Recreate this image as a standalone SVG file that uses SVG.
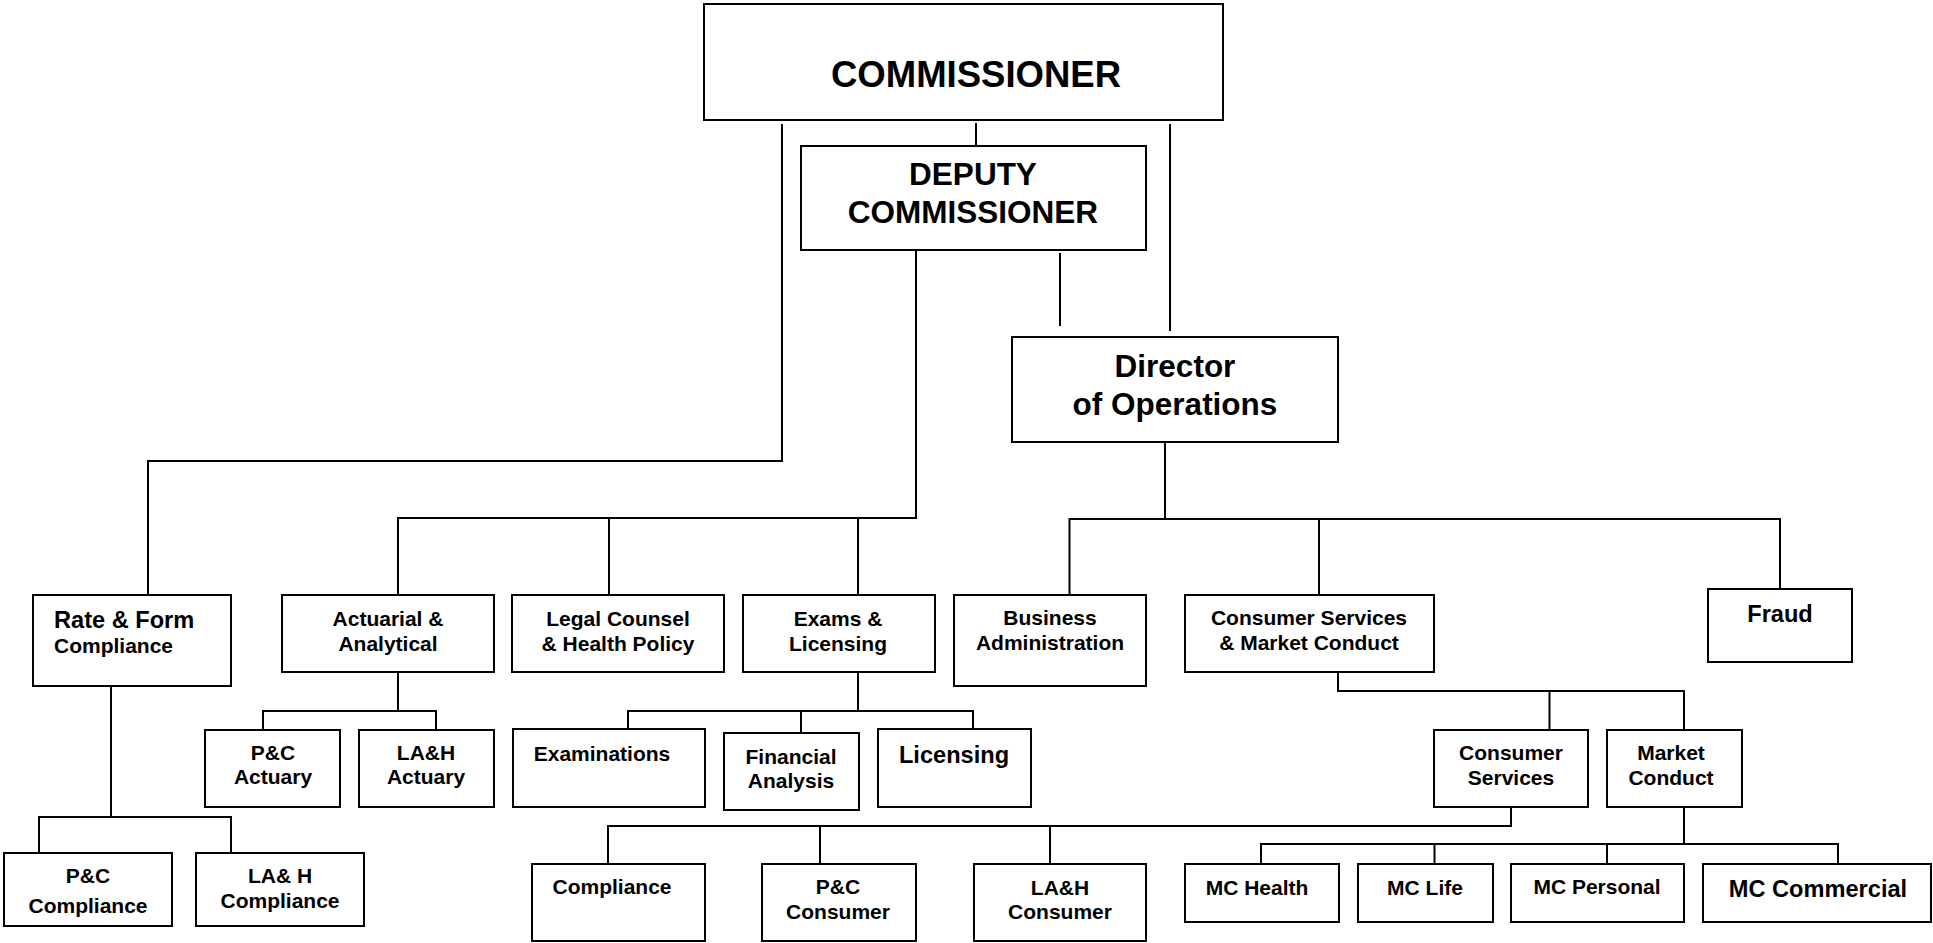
<svg xmlns="http://www.w3.org/2000/svg" width="1933" height="943" viewBox="0 0 1933 943">
<style>
  .box { fill: #ffffff; stroke: #000000; stroke-width: 2; }
  .conn { fill: none; stroke: #000000; stroke-width: 2; }
  text { font-family: "Liberation Sans", Arial, Helvetica, sans-serif; font-weight: bold; fill: #000000; }
  .c { text-anchor: middle; }
  .t21 { font-size: 21px; }
  .t24 { font-size: 23.6px; }
  .t31 { font-size: 31.5px; }
  .t36 { font-size: 36.5px; }
</style>
<rect x="0" y="0" width="1933" height="943" fill="#ffffff"/>
<g id="connectors">
  <path class="conn" d="M782 124 V461 H148 V595"/>
  <path class="conn" d="M976 123 V145"/>
  <path class="conn" d="M1170 124 V331"/>
  <path class="conn" d="M398 595 V518 H916 V250"/>
  <path class="conn" d="M609 518 V595"/>
  <path class="conn" d="M858 518 V595"/>
  <path class="conn" d="M1060 253 V326"/>
  <path class="conn" d="M1165 442 V519"/>
  <path class="conn" d="M1069.5 595 V519 H1780 V589"/>
  <path class="conn" d="M1319 519 V595"/>
  <path class="conn" d="M398 672 V711"/>
  <path class="conn" d="M263 730 V711 H436 V730"/>
  <path class="conn" d="M111 686 V817"/>
  <path class="conn" d="M39 853 V817 H231 V853"/>
  <path class="conn" d="M858 672 V711"/>
  <path class="conn" d="M628 729 V711 H973 V729"/>
  <path class="conn" d="M801 711 V733"/>
  <path class="conn" d="M1338 672 V691 H1684 V730"/>
  <path class="conn" d="M1549.5 691 V730"/>
  <path class="conn" d="M1511 807 V826 H608 V864"/>
  <path class="conn" d="M820 826 V864"/>
  <path class="conn" d="M1050 826 V864"/>
  <path class="conn" d="M1684 807 V844"/>
  <path class="conn" d="M1261 864 V844 H1838 V864"/>
  <path class="conn" d="M1434.5 844 V864"/>
  <path class="conn" d="M1607 844 V864"/>
</g>
<g id="commissioner">
  <rect class="box" x="704" y="4" width="519" height="116"/>
  <text class="c t36" x="976" y="87">COMMISSIONER</text>
</g>
<g id="deputy-commissioner">
  <rect class="box" x="801" y="146" width="345" height="104"/>
  <text class="c t31" x="973" y="185">DEPUTY</text>
  <text class="c t31" x="973" y="223">COMMISSIONER</text>
</g>
<g id="director-operations">
  <rect class="box" x="1012" y="337" width="326" height="105"/>
  <text class="c t31" x="1175" y="377">Director</text>
  <text class="c t31" x="1175" y="415">of Operations</text>
</g>
<g id="rate-form-compliance">
  <rect class="box" x="33" y="595" width="198" height="91"/>
  <text class="t24" x="54" y="628">Rate &amp; Form</text>
  <text class="t21" x="54" y="653">Compliance</text>
</g>
<g id="actuarial-analytical">
  <rect class="box" x="282" y="595" width="212" height="77"/>
  <text class="c t21" x="388" y="626">Actuarial &amp;</text>
  <text class="c t21" x="388" y="651">Analytical</text>
</g>
<g id="legal-counsel">
  <rect class="box" x="512" y="595" width="212" height="77"/>
  <text class="c t21" x="618" y="626">Legal Counsel</text>
  <text class="c t21" x="618" y="651">&amp; Health Policy</text>
</g>
<g id="exams-licensing">
  <rect class="box" x="743" y="595" width="192" height="77"/>
  <text class="c t21" x="838" y="626">Exams &amp;</text>
  <text class="c t21" x="838" y="651">Licensing</text>
</g>
<g id="business-administration">
  <rect class="box" x="954" y="595" width="192" height="91"/>
  <text class="c t21" x="1050" y="625">Business</text>
  <text class="c t21" x="1050" y="650">Administration</text>
</g>
<g id="consumer-services-market-conduct">
  <rect class="box" x="1185" y="595" width="249" height="77"/>
  <text class="c t21" x="1309" y="625">Consumer Services</text>
  <text class="c t21" x="1309" y="650">&amp; Market Conduct</text>
</g>
<g id="fraud">
  <rect class="box" x="1708" y="589" width="144" height="73"/>
  <text class="c t24" x="1780" y="622">Fraud</text>
</g>
<g id="pc-actuary">
  <rect class="box" x="205" y="730" width="135" height="77"/>
  <text class="c t21" x="273" y="760">P&amp;C</text>
  <text class="c t21" x="273" y="784">Actuary</text>
</g>
<g id="lah-actuary">
  <rect class="box" x="359" y="730" width="135" height="77"/>
  <text class="c t21" x="426" y="760">LA&amp;H</text>
  <text class="c t21" x="426" y="784">Actuary</text>
</g>
<g id="examinations">
  <rect class="box" x="513" y="729" width="192" height="78"/>
  <text class="c t21" x="602" y="761">Examinations</text>
</g>
<g id="financial-analysis">
  <rect class="box" x="724" y="733" width="135" height="77"/>
  <text class="c t21" x="791" y="764">Financial</text>
  <text class="c t21" x="791" y="788">Analysis</text>
</g>
<g id="licensing">
  <rect class="box" x="878" y="729" width="153" height="78"/>
  <text class="c t24" x="954" y="763">Licensing</text>
</g>
<g id="pc-compliance">
  <rect class="box" x="4" y="853" width="168" height="73"/>
  <text class="c t21" x="88" y="883">P&amp;C</text>
  <text class="c t21" x="88" y="913">Compliance</text>
</g>
<g id="lah-compliance">
  <rect class="box" x="196" y="853" width="168" height="73"/>
  <text class="c t21" x="280" y="883">LA&amp; H</text>
  <text class="c t21" x="280" y="908">Compliance</text>
</g>
<g id="compliance">
  <rect class="box" x="532" y="864" width="173" height="77"/>
  <text class="c t21" x="612" y="894">Compliance</text>
</g>
<g id="pc-consumer">
  <rect class="box" x="762" y="864" width="154" height="77"/>
  <text class="c t21" x="838" y="894">P&amp;C</text>
  <text class="c t21" x="838" y="919">Consumer</text>
</g>
<g id="lah-consumer">
  <rect class="box" x="974" y="864" width="172" height="77"/>
  <text class="c t21" x="1060" y="895">LA&amp;H</text>
  <text class="c t21" x="1060" y="919">Consumer</text>
</g>
<g id="consumer-services">
  <rect class="box" x="1434" y="730" width="154" height="77"/>
  <text class="c t21" x="1511" y="760">Consumer</text>
  <text class="c t21" x="1511" y="785">Services</text>
</g>
<g id="market-conduct">
  <rect class="box" x="1607" y="730" width="135" height="77"/>
  <text class="c t21" x="1671" y="760">Market</text>
  <text class="c t21" x="1671" y="785">Conduct</text>
</g>
<g id="mc-health">
  <rect class="box" x="1185" y="864" width="154" height="58"/>
  <text class="c t21" x="1257" y="895">MC Health</text>
</g>
<g id="mc-life">
  <rect class="box" x="1358" y="864" width="135" height="58"/>
  <text class="c t21" x="1425" y="895">MC Life</text>
</g>
<g id="mc-personal">
  <rect class="box" x="1511" y="864" width="173" height="58"/>
  <text class="c t21" x="1597" y="894">MC Personal</text>
</g>
<g id="mc-commercial">
  <rect class="box" x="1703" y="864" width="228" height="58"/>
  <text class="c t24" x="1818" y="897">MC Commercial</text>
</g>
</svg>
